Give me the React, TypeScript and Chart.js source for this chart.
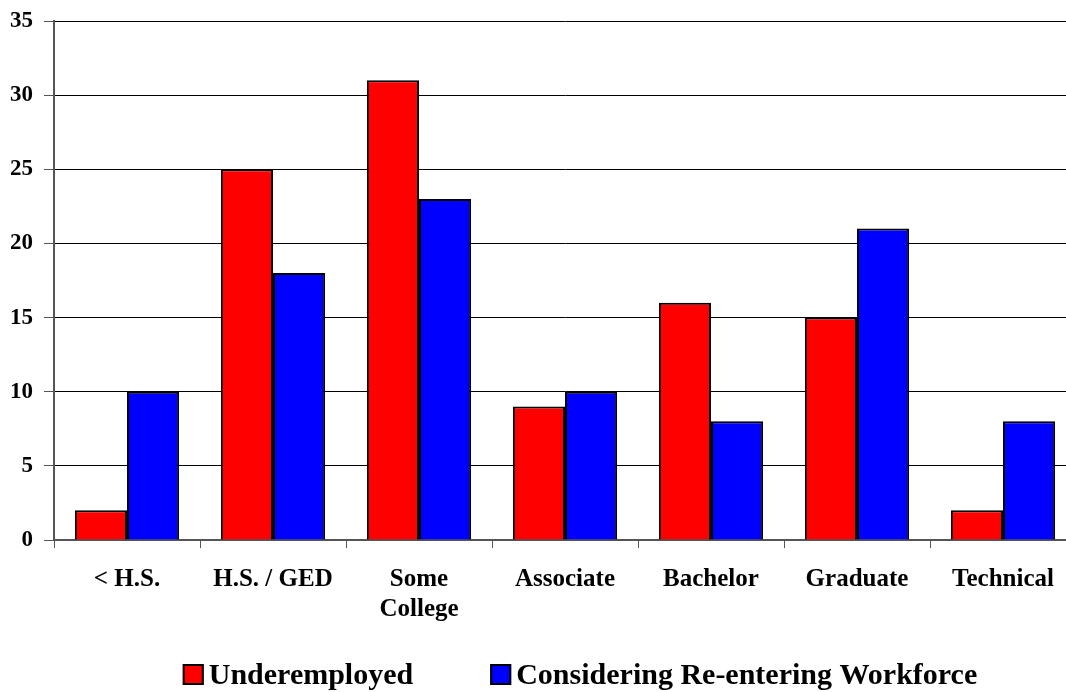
import React, { useEffect, useRef } from "react";
import { Chart, registerables } from "chart.js";

Chart.register(...registerables);

const categories: (string | string[])[] = ["< H.S.", "H.S. / GED", ["Some", "College"], "Associate", "Bachelor", "Graduate", "Technical"];
const underemployed = [2, 25, 31, 9, 16, 15, 2];
const reentering = [10, 18, 23, 10, 8, 21, 8];
const seriesNames = ["Underemployed", "Considering Re-entering Workforce"];
const seriesColors = ["#ff0000", "#0000ff"];

const FONT = "'Liberation Serif', 'Times New Roman', serif";

const customLegend = {
  id: "customLegend",
  afterDraw(chart: any) {
    const ctx = chart.ctx as CanvasRenderingContext2D;
    const boxW = 21;
    const boxH = 21;
    const textGap = 5;
    const itemGap = 77;
    const centerX = 580;
    const boxTop = 664;
    const baseline = 684;
    ctx.save();
    ctx.font = `bold 30px ${FONT}`;
    const items = chart.data.datasets.map((d: any) => ({
      label: d.label as string,
      color: d.backgroundColor as string,
      w: ctx.measureText(d.label).width,
    }));
    let total = 0;
    items.forEach((it: any, i: number) => {
      total += boxW + textGap + it.w + (i > 0 ? itemGap : 0);
    });
    let x = centerX - total / 2;
    items.forEach((it: any) => {
      ctx.fillStyle = it.color;
      ctx.fillRect(x, boxTop, boxW, boxH);
      ctx.strokeStyle = "#000";
      ctx.lineWidth = 2;
      ctx.strokeRect(x + 1, boxTop + 1, boxW - 2, boxH - 2);
      ctx.fillStyle = "#000";
      ctx.textAlign = "left";
      ctx.textBaseline = "alphabetic";
      ctx.fillText(it.label, x + boxW + textGap, baseline);
      x += boxW + textGap + it.w + itemGap;
    });
    ctx.restore();
  },
};

export default function App() {
  const ref = useRef<HTMLCanvasElement | null>(null);
  useEffect(() => {
    if (!ref.current) return;
    const chart = new Chart(ref.current, {
      type: "bar",
      data: {
        labels: categories,
        datasets: [
          {
            label: seriesNames[0],
            data: underemployed,
            backgroundColor: seriesColors[0],
            borderColor: "#000000",
            borderWidth: 2,
            categoryPercentage: 0.714,
            barPercentage: 1.0,
          },
          {
            label: seriesNames[1],
            data: reentering,
            backgroundColor: seriesColors[1],
            borderColor: "#000000",
            borderWidth: 2,
            categoryPercentage: 0.714,
            barPercentage: 1.0,
          },
        ],
      },
      plugins: [customLegend],
      options: {
        animation: false,
        responsive: true,
        maintainAspectRatio: false,
        layout: { padding: { top: 21, left: 0, right: 0, bottom: 52 } },
        plugins: {
          tooltip: { enabled: false },
          legend: { display: false },
        },
        scales: {
          x: {
            afterFit: (s: any) => {
              s.height = 100;
            },
            grid: {
              display: true,
              drawOnChartArea: false,
              offset: true,
              tickLength: 8,
              color: "#555",
            },
            border: { display: true, color: "#555", width: 2 },
            ticks: {
              color: "#000",
              padding: 17,
              font: { family: FONT, size: 25, weight: "bold", lineHeight: 1.2 },
              maxRotation: 0,
              autoSkip: false,
            },
          },
          y: {
            min: 0,
            max: 35,
            afterFit: (s: any) => {
              s.width = 54;
              s.paddingTop = 0;
              s.paddingBottom = 0;
            },
            grid: {
              color: "#000",
              lineWidth: 1,
              tickLength: 10,
              tickColor: "#555",
            },
            border: { display: true, color: "#555", width: 2 },
            ticks: {
              stepSize: 5,
              color: "#000",
              padding: 11,
              font: { family: FONT, size: 23, weight: "bold" },
            },
          },
        },
      },
    });
    return () => chart.destroy();
  }, []);
  return (
    <div style={{ position: "fixed", left: 0, top: 0, width: 1066, height: 692, overflow: "hidden", background: "#fff" }}>
      <div style={{ position: "absolute", left: 0, top: 0, width: 1076, height: 692 }}>
        <canvas ref={ref} />
      </div>
    </div>
  );
}
